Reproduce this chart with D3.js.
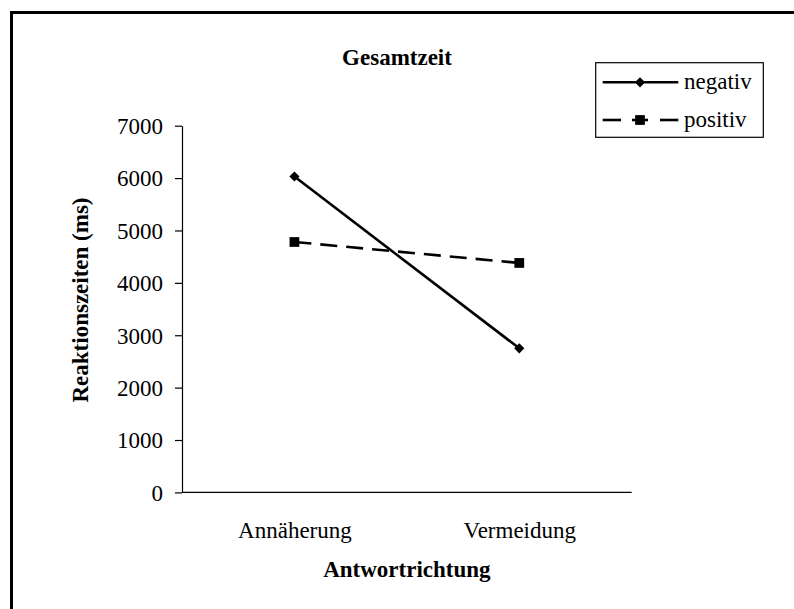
<!DOCTYPE html>
<html>
<head>
<meta charset="utf-8">
<script src="https://cdn.jsdelivr.net/npm/d3@7"></script>
<style>
  html, body { margin: 0; padding: 0; background: #fff; }
  svg { display: block; }
  text { font-family: "Liberation Serif", "Times New Roman", serif; fill: #000; }
</style>
</head>
<body>
<svg id="chart" width="794" height="609"></svg>
<script>
// Response directions (x categories)
const categories = ["Annäherung", "Vermeidung"];
// Mean total reaction times in ms per valence
const negativValues = [6030, 2750];
const positivValues = [4780, 4380];
const seriesNames = ["negativ", "positiv"];
const yTicks = [0, 1000, 2000, 3000, 4000, 5000, 6000, 7000];

const chartTitle = "Gesamtzeit";
const xTitle = "Antwortrichtung";
const yTitle = "Reaktionszeiten (ms)";

const svg = d3.select("#chart");
const plot = { left: 182, right: 631.7, top: 125.7, bottom: 492.4 };

// outer frame (runs past the right and bottom edges)
svg.append("rect")
  .attr("x", 11.5).attr("y", 12.5)
  .attr("width", 820).attr("height", 700)
  .attr("fill", "none").attr("stroke", "#000").attr("stroke-width", 3);

const x = d3.scalePoint().domain(categories).range([plot.left, plot.right]).padding(0.5);
const y = d3.scaleLinear().domain([0, 7000]).range([plot.bottom, plot.top]);

// y axis
const yAxis = svg.append("g")
  .attr("transform", `translate(${plot.left},0)`)
  .call(d3.axisLeft(y).tickValues(yTicks).tickSize(7).tickSizeOuter(0).tickPadding(12).tickFormat(d3.format("d")));
yAxis.selectAll("text").style("font-size", "23px").attr("dy", "0.34em");
yAxis.selectAll("line, path").attr("stroke", "#000").attr("stroke-width", 1.2);

// x axis
const xAxis = svg.append("g")
  .attr("transform", `translate(0,${plot.bottom})`)
  .call(d3.axisBottom(x).tickSize(0).tickSizeOuter(0));
xAxis.select(".domain").attr("d", `M${plot.left},0H${plot.right}`).attr("stroke", "#000").attr("stroke-width", 1.2);
xAxis.selectAll("text").style("font-size", "23px").attr("y", 45.6).attr("dy", 0);

// titles
svg.append("text")
  .attr("x", 397).attr("y", 65)
  .attr("text-anchor", "middle")
  .style("font-size", "23px").style("font-weight", "bold")
  .text(chartTitle);

svg.append("text")
  .attr("x", (plot.left + plot.right) / 2).attr("y", 577)
  .attr("text-anchor", "middle")
  .style("font-size", "23px").style("font-weight", "bold")
  .text(xTitle);

svg.append("text")
  .attr("transform", "translate(88,300) rotate(-90)")
  .attr("text-anchor", "middle")
  .style("font-size", "23px").style("font-weight", "bold")
  .text(yTitle);

// series: diamond = square turned by 45 degrees
const series = [
  { name: seriesNames[0], values: negativValues, dash: null, symbol: d3.symbolSquare, size: 52, rot: 45 },
  { name: seriesNames[1], values: positivValues, dash: "17,9", symbol: d3.symbolSquare, size: 95, rot: 0 }
];

const line = d3.line().x(d => x(d.cat)).y(d => y(d.v));

series.forEach(s => {
  const pts = categories.map((c, i) => ({ cat: c, v: s.values[i] }));
  svg.append("path")
    .datum(pts)
    .attr("d", line)
    .attr("fill", "none")
    .attr("stroke", "#000")
    .attr("stroke-width", 2.6)
    .attr("stroke-dasharray", s.dash);
  svg.selectAll(null)
    .data(pts)
    .enter().append("path")
    .attr("transform", d => `translate(${x(d.cat)},${y(d.v)}) rotate(${s.rot})`)
    .attr("d", d3.symbol().type(s.symbol).size(s.size))
    .attr("fill", "#000");
});

// legend
const legend = svg.append("g");
legend.append("rect")
  .attr("x", 595.7).attr("y", 62.7)
  .attr("width", 167.6).attr("height", 74.6)
  .attr("fill", "#fff").attr("stroke", "#000").attr("stroke-width", 1.2);

const legendRows = [82.3, 120];
series.forEach((s, i) => {
  const ly = legendRows[i];
  if (s.dash) {
    // dashed sample: dashes either side of the marker
    [[602.7, 621], [632, 648], [660, 678.3]].forEach(([a, b]) => {
      legend.append("line").attr("x1", a).attr("x2", b).attr("y1", ly).attr("y2", ly)
        .attr("stroke", "#000").attr("stroke-width", 2.6);
    });
  } else {
    legend.append("line").attr("x1", 602.7).attr("x2", 678.3).attr("y1", ly).attr("y2", ly)
      .attr("stroke", "#000").attr("stroke-width", 2.6);
  }
  legend.append("path")
    .attr("transform", `translate(640,${ly}) rotate(${s.rot})`)
    .attr("d", d3.symbol().type(s.symbol).size(s.size))
    .attr("fill", "#000");
  legend.append("text")
    .attr("x", 684).attr("y", ly + 7)
    .style("font-size", "23px")
    .text(s.name);
});
</script>
</body>
</html>
